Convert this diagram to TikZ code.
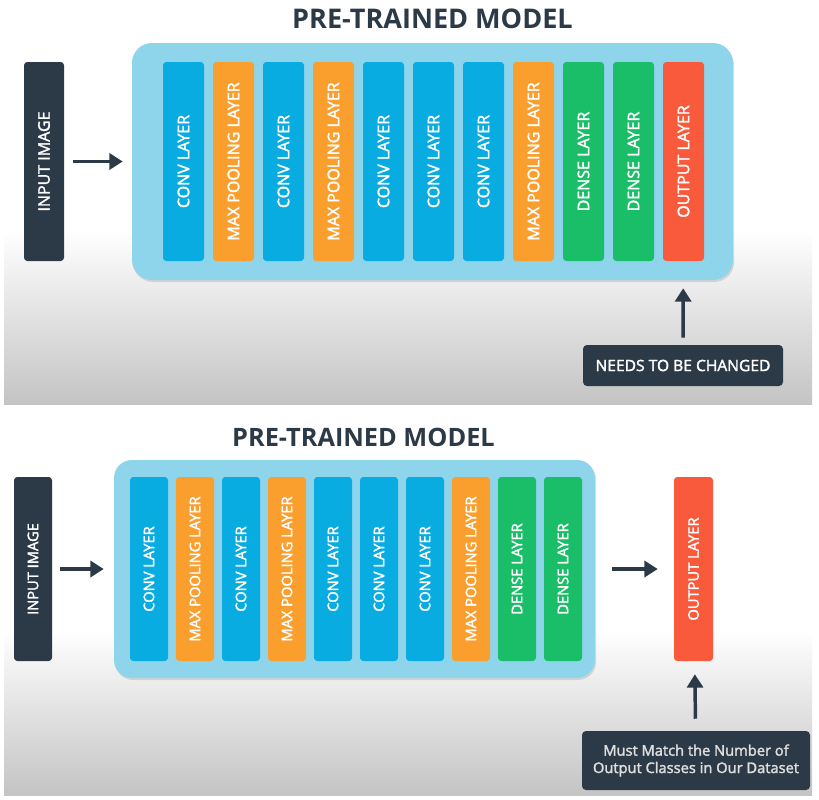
\documentclass[tikz,border=0pt]{standalone}
\usepackage{fontspec}
\setmainfont{Open Sans}
\newfontfamily\semibold{Open Sans}[FakeBold=2]
\usetikzlibrary{arrows.meta,shadows}

\definecolor{darkbox}{RGB}{44,57,71}
\definecolor{convblue}{RGB}{8,172,225}
\definecolor{poolorange}{RGB}{250,158,46}
\definecolor{densegreen}{RGB}{27,190,104}
\definecolor{outred}{RGB}{250,90,60}
\definecolor{modelblue}{RGB}{142,213,236}
\definecolor{bggray}{RGB}{196,196,196}
\definecolor{notetext}{RGB}{222,222,222}

\tikzset{
  layer/.style={rectangle, rotate=90, rounded corners=2.5pt, inner sep=0pt,
    minimum width=149.25pt, minimum height=30.75pt, text=white,
    font=\semibold\fontsize{12}{13}\selectfont},
  layerB/.style={layer, minimum width=138pt, minimum height=28.5pt,
    font=\semibold\fontsize{11}{12}\selectfont},
  convlayer/.style={fill=convblue},
  poollayer/.style={fill=poolorange},
  denselayer/.style={fill=densegreen},
  outlayer/.style={fill=outred},
  inputbox/.style={fill=darkbox},
  modelbox/.style={rectangle, fill=modelblue, inner sep=0pt,
    drop shadow={shadow xshift=0.8pt, shadow yshift=-1.5pt, opacity=0.25}},
  notebox/.style={rectangle, fill=darkbox, rounded corners=3pt, inner sep=0pt, align=center},
  flowarrow/.style={-{Triangle[length=10pt,width=12pt]}, line width=2.6pt, draw=darkbox},
  titletext/.style={text=darkbox, font=\fontsize{20.3}{24}\bfseries}
}

\begin{document}
\begin{tikzpicture}[x=0.75pt, y=-0.75pt]
    \useasboundingbox (0,0) rectangle (819,800);
    % backgrounds of the two panels
    \fill[white] (0,0) rectangle (819,800);
    \shade[top color=white, bottom color=bggray] (4,230) rectangle (812,404);
    \shade[top color=white, bottom color=bggray] (4,630) rectangle (812,795);

    % top panel
    \node[titletext] (title1) at (432.5,19) {PRE-TRAINED MODEL};
    \node[layer, inputbox, minimum height=30pt] (in1) at (44,161.5) {INPUT IMAGE};
    \node[modelbox, rounded corners=15pt, minimum width=450.75pt, minimum height=177.75pt] (model1) at (432.5,161.5) {};
    \node[layer, convlayer] (L1) at (183.5,161.5) {CONV LAYER};
    \node[layer, poollayer] (L2) at (233.5,161.5) {MAX POOLING LAYER};
    \node[layer, convlayer] (L3) at (283.5,161.5) {CONV LAYER};
    \node[layer, poollayer] (L4) at (333.5,161.5) {MAX POOLING LAYER};
    \node[layer, convlayer] (L5) at (383.5,161.5) {CONV LAYER};
    \node[layer, convlayer] (L6) at (433.5,161.5) {CONV LAYER};
    \node[layer, convlayer] (L7) at (483.5,161.5) {CONV LAYER};
    \node[layer, poollayer] (L8) at (533.5,161.5) {MAX POOLING LAYER};
    \node[layer, denselayer] (L9) at (583.5,161.5) {DENSE LAYER};
    \node[layer, denselayer] (L10) at (633.5,161.5) {DENSE LAYER};
    \node[layer, outlayer] (L11) at (683.5,161.5) {OUTPUT LAYER};
    \node[notebox, minimum width=150pt, minimum height=30.75pt, text=white,
        font=\semibold\fontsize{11.7}{13}\selectfont] (note1) at (683,365.5) {NEEDS TO BE CHANGED};

    \draw[flowarrow, shorten <=6.75pt, shorten >=6.75pt] (in1) -- (model1);
    \draw[flowarrow, shorten <=5.25pt, shorten >=20.25pt] (note1) -- (L11);

    % bottom panel
    \node[titletext, font=\fontsize{19}{22}\bfseries] (title2) at (363.5,437) {PRE-TRAINED MODEL};
    \node[layerB, inputbox] (in2) at (33,569) {INPUT IMAGE};
    \node[modelbox, rounded corners=13.5pt, minimum width=360.75pt, minimum height=163.5pt] (model2) at (354.5,569) {};
    \node[layerB, convlayer] (M1) at (149,569) {CONV LAYER};
    \node[layerB, poollayer] (M2) at (195,569) {MAX POOLING LAYER};
    \node[layerB, convlayer] (M3) at (241,569) {CONV LAYER};
    \node[layerB, poollayer] (M4) at (287,569) {MAX POOLING LAYER};
    \node[layerB, convlayer] (M5) at (333,569) {CONV LAYER};
    \node[layerB, convlayer] (M6) at (379,569) {CONV LAYER};
    \node[layerB, convlayer] (M7) at (425,569) {CONV LAYER};
    \node[layerB, poollayer] (M8) at (471,569) {MAX POOLING LAYER};
    \node[layerB, denselayer] (M9) at (517,569) {DENSE LAYER};
    \node[layerB, denselayer] (M10) at (563,569) {DENSE LAYER};
    \node[layerB, outlayer, minimum height=29.25pt] (out2) at (693.5,569) {OUTPUT LAYER};
    \node[notebox, minimum width=171pt, minimum height=44.25pt, text=notetext,
        font=\semibold\fontsize{11}{13}\selectfont] (note2) at (696,760.5) {Must Match the Number of\\Output Classes in Our Dataset};

    \draw[flowarrow, shorten <=6pt, shorten >=7.5pt] (in2) -- (model2);
    \draw[flowarrow, shorten <=12.75pt, shorten >=12pt] (model2) -- (out2);
    \draw[flowarrow, shorten <=9pt, shorten >=9.75pt] (note2) -- (out2);
\end{tikzpicture}
\end{document}
